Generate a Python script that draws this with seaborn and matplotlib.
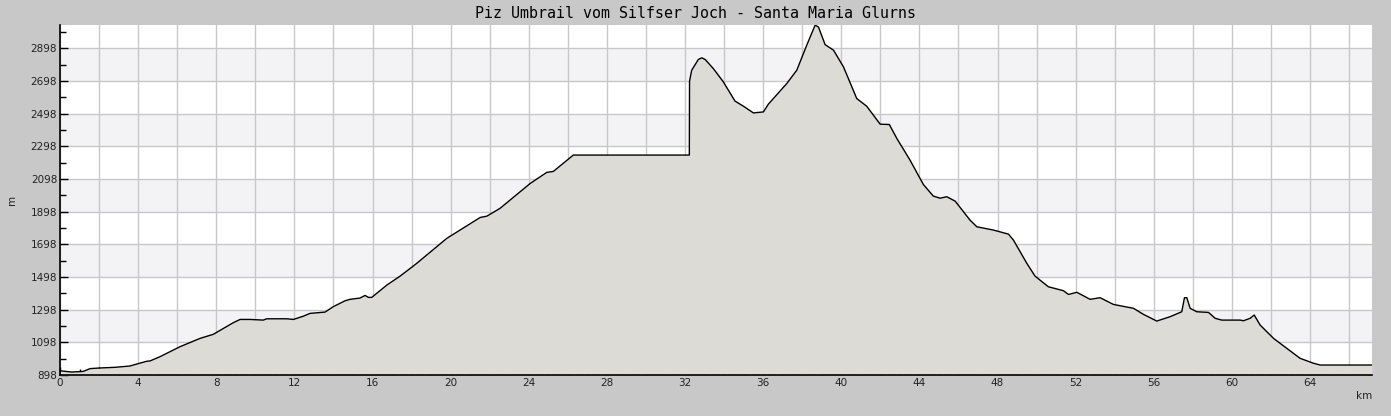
import numpy as np
import pandas as pd
import matplotlib
matplotlib.use("Agg")
import matplotlib.pyplot as plt
from matplotlib.ticker import MultipleLocator, FixedLocator, FuncFormatter
import seaborn as sns

# Elevation profile
km = [0.00, 0.60, 1.19, 1.54, 2.05, 2.82, 3.58, 3.93, 4.44, 4.61, 5.12, 6.14, 7.17, 7.85,
      8.87, 9.22, 9.73, 10.41, 10.58, 11.61, 11.95, 12.46, 12.80, 13.57, 13.99, 14.59, 14.85,
      15.36, 15.62, 15.79, 15.96, 16.73, 17.41, 18.09, 18.26, 19.80, 21.51, 21.85, 22.53,
      24.07, 24.92, 25.26, 26.28, 32.22, 32.23, 32.34, 32.68, 32.86, 33.03, 33.45, 33.96,
      34.56, 34.99, 35.50, 36.01, 36.27, 37.21, 37.72, 38.23, 38.66, 38.83, 39.17, 39.60,
      40.11, 40.79, 41.30, 41.99, 42.46, 42.84, 43.52, 44.20, 44.71, 45.06, 45.40, 45.83,
      46.59, 46.94, 47.79, 48.56, 48.81, 49.50, 49.92, 50.60, 51.37, 51.63, 52.06, 52.74,
      53.25, 53.93, 54.96, 55.47, 56.15, 56.84, 57.43, 57.57, 57.69, 57.86, 58.20, 58.80,
      59.14, 59.48, 60.42, 60.59, 60.93, 61.14, 61.44, 62.13, 62.81, 63.49, 64.17, 64.52,
      67.17]
elev = [924, 916, 920, 937, 941, 945, 953, 965, 982, 984, 1010, 1071, 1122, 1147,
        1218, 1238, 1238, 1234, 1242, 1242, 1238, 1258, 1275, 1283, 1316, 1352, 1361,
        1369, 1385, 1373, 1373, 1448, 1503, 1565, 1581, 1734, 1862, 1870, 1918,
        2070, 2138, 2144, 2244, 2244, 2696, 2763, 2829, 2839, 2829, 2773, 2692,
        2574, 2543, 2502, 2508, 2556, 2682, 2763, 2916, 3039, 3028, 2920, 2886,
        2784, 2590, 2543, 2433, 2431, 2346, 2213, 2064, 1993, 1980, 1989, 1962,
        1846, 1805, 1785, 1760, 1724, 1581, 1503, 1438, 1414, 1391, 1404, 1361,
        1371, 1330, 1306, 1269, 1228, 1255, 1285, 1371, 1371, 1306, 1285, 1281,
        1245, 1234, 1234, 1230, 1245, 1265, 1204, 1122, 1061, 1000, 970, 959,
        959]

title = "Piz Umbrail vom Silfser Joch - Santa Maria Glurns"
y_min, y_max = 898, 3040
x_max = 67.17

df = pd.DataFrame({"km": km, "m": elev})

fig = plt.figure(figsize=(13.91, 4.16), dpi=100, facecolor="#c8c8c8")
ax = fig.add_axes([60 / 1391, 1 - 375 / 416, 1312 / 1391, 350 / 416])
ax.set_facecolor("white")

# alternating bands between the y grid lines
yticks = np.arange(y_min, y_max, 200)
for i, y0 in enumerate(yticks):
    if i % 2 == 1:
        ax.axhspan(y0, y0 + 200, color="#f3f2f5", zorder=0, lw=0)

ax.fill_between(df["km"], df["m"], y_min, color="#dcdbd6", zorder=2, lw=0)
sns.lineplot(data=df, x="km", y="m", color="black", lw=1, sort=False, ax=ax, zorder=3)

ax.set_xlim(0, x_max)
ax.set_ylim(y_min, y_max)

ax.yaxis.set_major_locator(FixedLocator(yticks))
ax.yaxis.set_minor_locator(FixedLocator(np.arange(y_min + 100, y_max, 200)))
ax.xaxis.set_major_locator(MultipleLocator(2))
ax.xaxis.set_minor_locator(MultipleLocator(1))
ax.xaxis.set_major_formatter(FuncFormatter(lambda v, p: f"{int(round(v))}" if round(v) % 4 == 0 else ""))

ax.grid(True, which="major", color="#c8c8c8", lw=1, zorder=1)
ax.set_axisbelow(True)

ax.tick_params(which="both", direction="in", color="black", labelsize=7.5,
               labelcolor="#222222", pad=2)
ax.tick_params(which="major", length=6, width=1)
ax.tick_params(which="minor", length=4, width=1)

for side in ["top", "right"]:
    ax.spines[side].set_visible(False)
for side in ["left", "bottom"]:
    ax.spines[side].set_color("black")
    ax.spines[side].set_linewidth(1.2)

ax.set_xlabel("km", loc="right", fontsize=7.5, color="#222222", labelpad=2)
ax.set_ylabel("m", fontsize=7.5, color="#222222", labelpad=10)

fig.text(0.5, 1 - 14 / 416, title, ha="center", va="center",
         family="DejaVu Sans Mono", fontsize=10.8, color="black")

fig.savefig("out.png", dpi=100, facecolor=fig.get_facecolor())
